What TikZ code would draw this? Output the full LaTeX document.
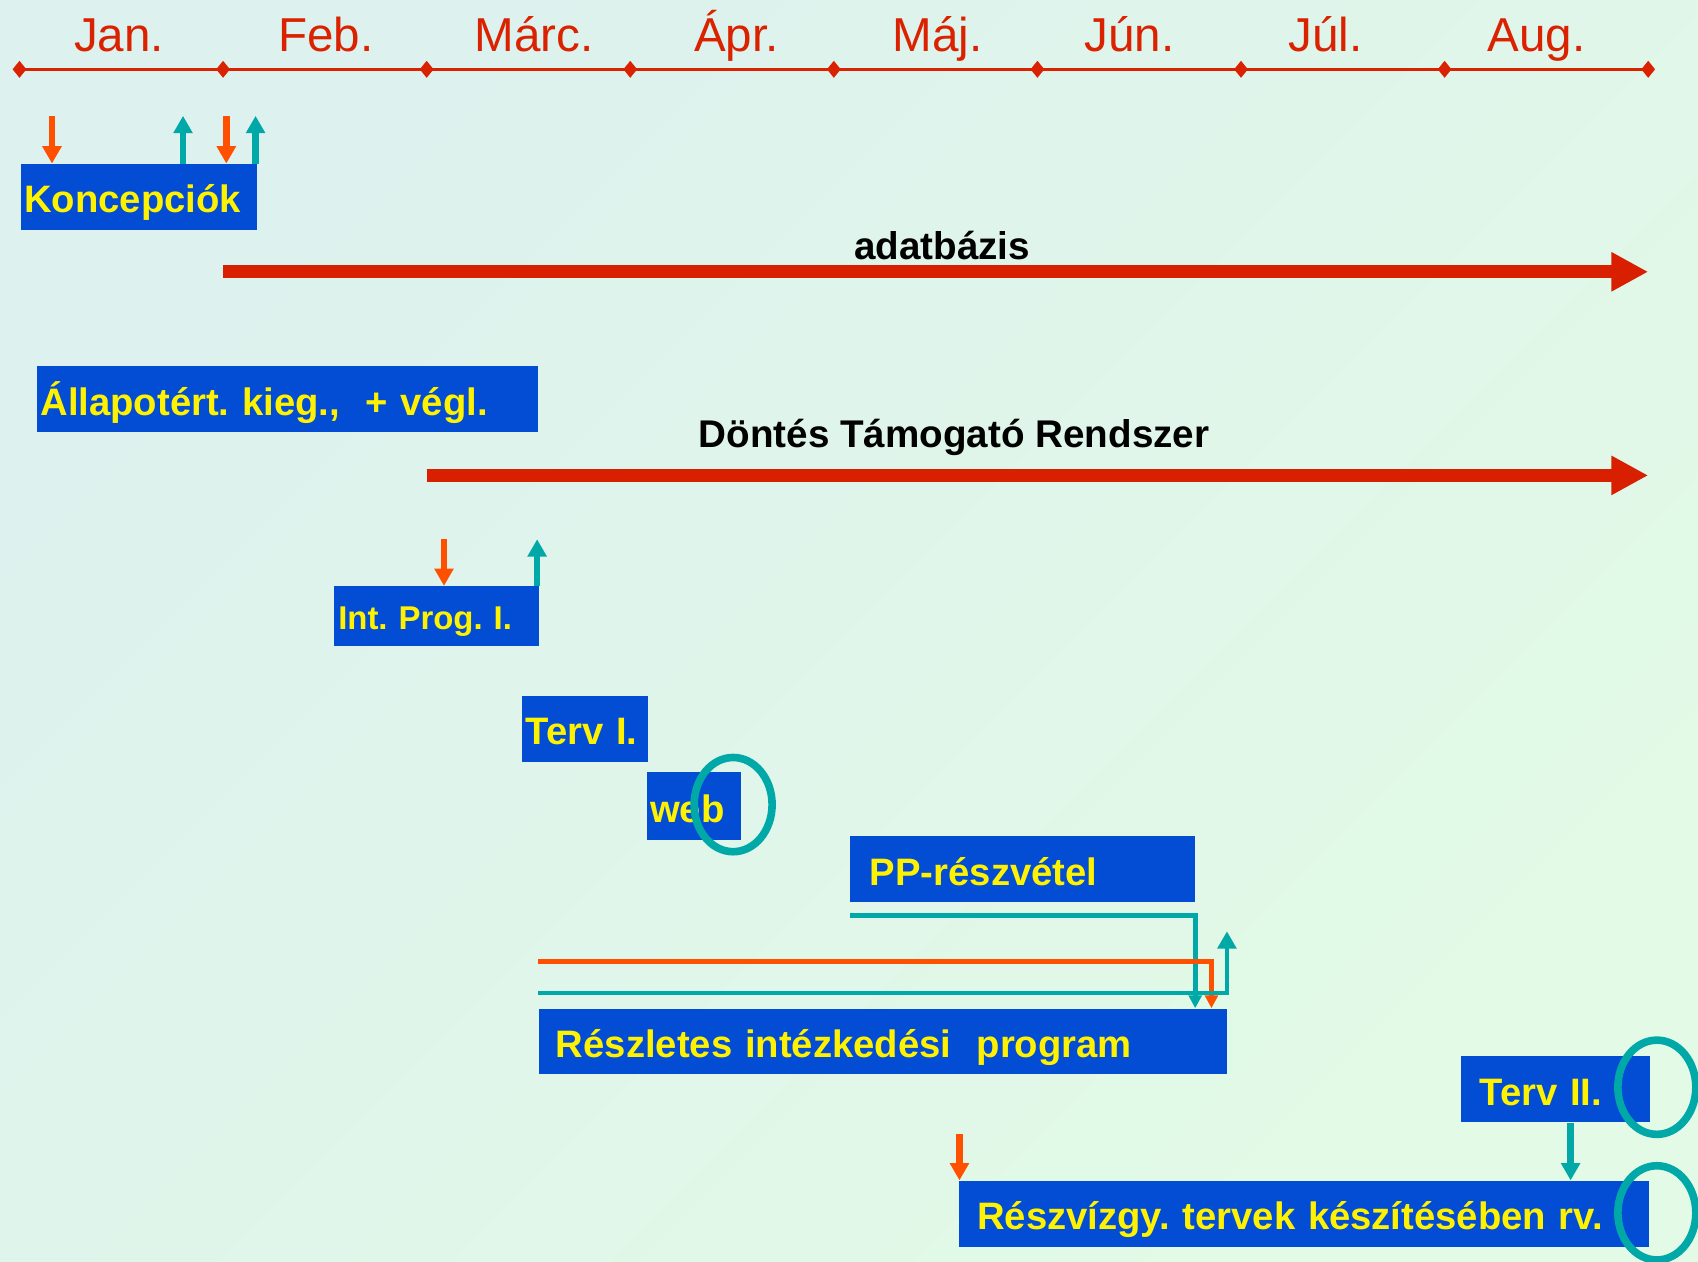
\documentclass[tikz,border=0pt]{standalone}
\usepackage{fontspec}
\setmainfont{Liberation Sans}
\usetikzlibrary{shapes.geometric,arrows.meta}
\frenchspacing

\definecolor{monthred}{RGB}{218,34,0}
\definecolor{barred}{RGB}{216,32,0}
\definecolor{inorange}{RGB}{255,80,0}
\definecolor{outteal}{RGB}{0,168,168}
\definecolor{taskblue}{RGB}{3,76,212}
\definecolor{bgA}{RGB}{221,241,238}
\definecolor{bgB}{RGB}{226,250,230}
\newlength\upx
\setlength\upx{0.02cm}

\begin{document}
\begin{tikzpicture}[x=0.02cm,y=-0.02cm,
  task/.style={rectangle,fill=taskblue,text=yellow,anchor=north west,align=left,inner ysep=0pt,
    font=\fontsize{20.1pt}{24pt}\selectfont\bfseries,text height=16.8pt,text depth=0pt},
  month/.style={anchor=base,text=monthred,font=\fontsize{25pt}{30pt}\selectfont},
  phase/.style={anchor=base,font=\fontsize{20.3pt}{24pt}\selectfont\bfseries},
  monthtick/.style={diamond,fill=monthred,inner sep=0pt,minimum width=13\upx,minimum height=16\upx},
  phasebar/.style={draw=barred,line width=6.83pt,-{Triangle[length=19.35pt,width=19.35pt]}},
  inarrow/.style={draw=inorange,fill=inorange,line width=3.4pt,-{Triangle[length=9.1pt,width=9.7pt]}},
  outarrow/.style={draw=outteal,fill=outteal,line width=3.4pt,-{Triangle[length=9.1pt,width=9.7pt]}},
  orangeline/.style={draw=inorange,line width=2.56pt,-{Triangle[length=6.8pt,width=6.8pt]}},
  tealline/.style={draw=outteal,line width=2.56pt,-{Triangle[length=6.8pt,width=6.8pt]}},
  ring/.style={ellipse,draw=outteal,line width=4pt,inner sep=0pt,minimum width=72\upx,minimum height=87\upx}]

  \shade[top color=bgA,bottom color=bgB,shading angle=45] (0,0) rectangle (1568,1165);
  \useasboundingbox (0,0) rectangle (1568,1165);

  % months
  \foreach \i in {0,...,8}
    \node[monthtick] (t\i) at (18+188*\i,64) {};
  \draw[monthred,line width=1.7pt] (t0.center) -- (t8.center);
  \foreach \m/\x [count=\i] in {Jan./110,Feb./301,Márc./493,Ápr./680,Máj./866,Jún./1043,Júl./1224,Aug./1419}
    \node[month] (m\i) at (\x,48) {\m};

  % long phases
  \draw[phasebar] (t1 |- 0,251) -- (t8 |- 0,251);
  \node[phase] (db) at (870,240) {adatbázis};
  \draw[phasebar] (t2 |- 0,439) -- (t8 |- 0,439);
  \node[phase] (dts) at (881,413) {Döntés Támogató Rendszer};

  % tasks
  \node[task,inner xsep=3\upx,text width=212\upx,minimum height=61\upx] (konz) at (19,151) {Koncepciók};
  \node[task,inner xsep=3\upx,text width=456\upx,minimum height=61\upx] (allapot) at (34,338) {Állapotért. kieg.,~ + végl.};
  \node[task,inner xsep=4\upx,text width=181\upx,minimum height=55\upx,
    font=\fontsize{17.3pt}{21pt}\selectfont\bfseries,text height=14.6pt] (intprog) at (308,541) {Int. Prog. I.};
  \node[task,inner xsep=3\upx,text width=110\upx,minimum height=61\upx] (terv1) at (482,642) {Terv I.};
  \node[task,inner xsep=3\upx,text width=81\upx,minimum height=62\upx] (web) at (597,713) {web};
  \node[task,inner xsep=18\upx,text width=282\upx,minimum height=61\upx] (pp) at (785,772) {PP-részvétel};
  \node[task,inner xsep=16\upx,text width=604\upx,minimum height=60\upx] (reszletes) at (497,931) {Részletes intézkedési~ program};
  \node[task,inner xsep=17\upx,text width=140\upx,minimum height=61\upx] (terv2) at (1349,975) {Terv II.};
  \node[task,inner xsep=17\upx,text width=603\upx,minimum height=61\upx] (reszviz) at (885,1090) {Részvízgy. tervek készítésében rv.};

  % inputs and outputs
  \coordinate (k1) at (48,107);
  \coordinate (k2) at (169,107);
  \coordinate (k3) at (209,107);
  \coordinate (k4) at (236,107);
  \coordinate (p1) at (410,498);
  \coordinate (p2) at (496,498);
  \coordinate (r1) at (886,1047);
  \coordinate (rup) at (1133,860);
  \draw[inarrow] (k1) -- (k1 |- konz.north);
  \draw[outarrow] (k2 |- konz.north) -- (k2);
  \draw[inarrow] (k3) -- (k3 |- konz.north);
  \draw[outarrow] (k4 |- konz.north) -- (k4);
  \draw[inarrow] (p1) -- (p1 |- intprog.north);
  \draw[outarrow] (p2 |- intprog.north) -- (p2);
  \draw[inarrow] (r1) -- (r1 |- reszviz.north);
  \draw[outarrow] ([xshift=14\upx]terv2.south) -- ([xshift=14\upx]terv2.south |- reszviz.north);

  \draw[tealline] ([yshift=-12\upx]pp.south west) -| (pp.south east |- reszletes.north);
  \draw[orangeline] ([yshift=43\upx]reszletes.north west) -| ([xshift=-15\upx]reszletes.north east);
  \draw[tealline,-{Triangle[length=9.1pt,width=9.7pt]}] ([yshift=14\upx]reszletes.north west) -| (rup);

  % marks
  \node[ring] (webring) at (677,743) {};
  \node[ring] (terv2ring) at (1530,1004) {};
  \node[ring] (reszvizring) at (1530,1120) {};
\end{tikzpicture}
\end{document}
